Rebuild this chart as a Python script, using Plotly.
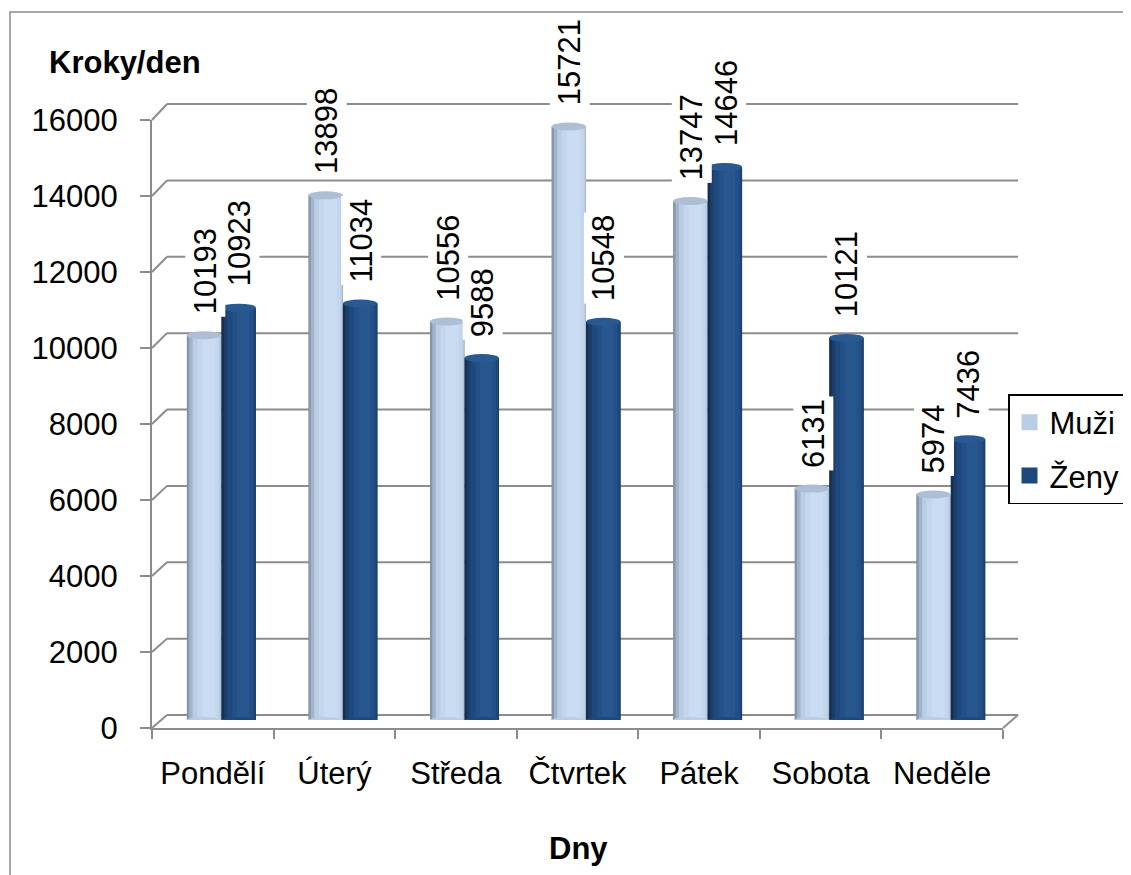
import plotly.graph_objects as go

# ---- data ----
days = ["Pondělí", "Úterý", "Středa", "Čtvrtek", "Pátek", "Sobota", "Neděle"]
muzi = [10193, 13898, 10556, 15721, 13747, 6131, 5974]
zeny = [10923, 11034, 9588, 10548, 14646, 10121, 7436]
y_ticks = [0, 2000, 4000, 6000, 8000, 10000, 12000, 14000, 16000]
y_title = "Kroky/den"
x_title = "Dny"
series_names = ["Muži", "Ženy"]
series_colors = ["#b9cde5", "#1f497d"]

W, H = 1131, 875
OFF = 8  # page body margin
FONT = "Liberation Sans, Arial, sans-serif"
FS = 31
GRID = "#8c8c8c"


def px_x(p):
    return (p - OFF) / W


def px_y(p):
    return 1 - (p - OFF) / H


# geometry (screen pixels)
front_x = (152, 1003)
front_y = (728, 120)      # y of 0 and 16000 on the front axis
bar_x = (160.5, 1011.5)
bar_y = (720, 116)
back_x = (167, 1018)
back_y = (715, 104)
YMAX = 16000

cat_w = (front_x[1] - front_x[0]) / len(days)
bar_px = 34.5
bw = bar_px / cat_w

fig = go.Figure()

# invisible trace for the front category axis
fig.add_trace(go.Scatter(x=days, y=muzi, mode="markers", marker=dict(opacity=0),
                         showlegend=False, hoverinfo="skip", xaxis="x", yaxis="y"))

layers_m = [(0.00, 1.00, "#8595ab"), (0.07, 1.00, "#a2b4ca"), (0.17, 0.98, "#b9cde5"),
            (0.30, 0.93, "#c3d6ed"), (0.45, 0.83, "#cadcf2")]
layers_z = [(0.00, 1.00, "#142f50"), (0.07, 1.00, "#1b3d67"), (0.17, 0.97, "#1f497d"),
            (0.32, 0.91, "#24508a"), (0.46, 0.80, "#28568f")]

for name, vals, layers, base in [(series_names[0], muzi, layers_m, -bw),
                                  (series_names[1], zeny, layers_z, 0.0)]:
    for k, (s, e, col) in enumerate(layers):
        fig.add_trace(go.Bar(
            x=days, y=vals, name=name,
            width=[(e - s) * bw] * len(days),
            offset=[base + s * bw] * len(days),
            marker=dict(color=col, line=dict(width=0)),
            showlegend=False, legendgroup=name,
            hoverinfo="skip", xaxis="x2", yaxis="y2"))

# legend entries (square swatches)
for name, col in zip(series_names, series_colors):
    fig.add_trace(go.Scatter(x=[None], y=[None], mode="markers", name=name,
                             marker=dict(symbol="square", size=17, color=col),
                             legendgroup=name, showlegend=True, hoverinfo="skip",
                             xaxis="x2", yaxis="y2"))

shapes = []
# outer border
shapes.append(dict(type="rect", xref="paper", yref="paper",
                   x0=px_x(10), x1=1.05, y0=-0.05, y1=px_y(12),
                   line=dict(color="#8c8c8c", width=1.5), layer="below"))


def fy(v):
    return px_y(front_y[0] + (front_y[1] - front_y[0]) * v / YMAX)


def by(v):
    return px_y(back_y[0] + (back_y[1] - back_y[0]) * v / YMAX)


for v in y_ticks:
    shapes.append(dict(type="line", xref="paper", yref="paper",
                       x0=px_x(back_x[0]), x1=px_x(back_x[1]), y0=by(v), y1=by(v),
                       line=dict(color=GRID, width=2), layer="below"))
    shapes.append(dict(type="line", xref="paper", yref="paper",
                       x0=px_x(front_x[0]), x1=px_x(back_x[0]), y0=fy(v), y1=by(v),
                       line=dict(color=GRID, width=2), layer="below"))
# right floor diagonal
shapes.append(dict(type="line", xref="paper", yref="paper",
                   x0=px_x(front_x[1]), x1=px_x(back_x[1]), y0=fy(0), y1=by(0),
                   line=dict(color=GRID, width=2), layer="below"))

# cylinder caps (top and bottom ellipses)
for vals, cap_top, cap_bot, x0, x1 in [(muzi, "#aebfd5", "#b9cde5", -bar_px, 0),
                                        (zeny, "#2a5890", "#1f497d", 0, bar_px)]:
    for d, v in zip(days, vals):
        shapes.append(dict(type="circle", xref="x2", yref="y2", xsizemode="pixel",
                           ysizemode="pixel", xanchor=d, yanchor=v, x0=x0, x1=x1,
                           y0=-4, y1=4, fillcolor=cap_top, line=dict(width=0), layer="above"))
        shapes.append(dict(type="circle", xref="x2", yref="y2", xsizemode="pixel",
                           ysizemode="pixel", xanchor=d, yanchor=0, x0=x0, x1=x1,
                           y0=-3, y1=3, fillcolor=cap_bot, line=dict(width=0), layer="above"))

annotations = []
for vals, xs in [(muzi, -bar_px / 2), (zeny, bar_px / 2)]:
    for d, v in zip(days, vals):
        annotations.append(dict(x=d, y=v, xref="x2", yref="y2", text=str(v),
                                textangle=-90, showarrow=False, xanchor="center",
                                yanchor="bottom", xshift=xs + 1, yshift=18,
                                bgcolor="white", borderpad=2,
                                font=dict(size=FS, color="black", family=FONT)))

annotations.append(dict(x=px_x(47), y=px_y(62), xref="paper", yref="paper",
                        text="<b>" + y_title + "</b>", showarrow=False,
                        xanchor="left", yanchor="middle",
                        font=dict(size=31, color="black", family=FONT)))
annotations.append(dict(x=px_x(578), y=px_y(848), xref="paper", yref="paper",
                        text="<b>" + x_title + "</b>", showarrow=False,
                        xanchor="center", yanchor="middle",
                        font=dict(size=31, color="black", family=FONT)))

fig.update_layout(
    width=W, height=H,
    margin=dict(l=0, r=0, t=0, b=0, pad=0, autoexpand=False),
    paper_bgcolor="white", plot_bgcolor="rgba(0,0,0,0)",
    barmode="overlay",
    font=dict(family=FONT, size=FS, color="black"),
    xaxis=dict(domain=[px_x(front_x[0]), px_x(front_x[1])], type="category",
               categoryorder="array", categoryarray=days, range=[-0.5, len(days) - 0.5],
               showline=True, linecolor=GRID, linewidth=2, ticks="outside",
               tickson="boundaries", ticklen=9, tickcolor=GRID, tickwidth=2,
               showgrid=False, zeroline=False, ticklabelstandoff=17, automargin=False,
               tickfont=dict(size=FS, family=FONT, color="black"), anchor="y", fixedrange=True),
    yaxis=dict(domain=[px_y(front_y[0]), px_y(front_y[1])], range=[0, YMAX],
               tickvals=y_ticks, tickformat="d", showline=True, linecolor=GRID, linewidth=2,
               ticks="outside", ticklen=10, tickcolor=GRID, tickwidth=2,
               showgrid=False, zeroline=False, ticklabelstandoff=16, automargin=False,
               tickfont=dict(size=FS, family=FONT, color="black"), anchor="x", fixedrange=True),
    xaxis2=dict(domain=[px_x(bar_x[0]), px_x(bar_x[1])], type="category",
                categoryorder="array", categoryarray=days, range=[-0.5, len(days) - 0.5],
                visible=False, anchor="y2", fixedrange=True, automargin=False),
    yaxis2=dict(domain=[px_y(bar_y[0]), px_y(bar_y[1])], range=[0, YMAX],
                visible=False, anchor="x2", fixedrange=True, automargin=False),
    legend=dict(x=px_x(1008), y=px_y(394), xanchor="left", yanchor="top",
                bgcolor="white", bordercolor="black", borderwidth=1.5,
                font=dict(size=FS, family=FONT, color="black"),
                tracegroupgap=10, itemwidth=30),
    shapes=shapes,
    annotations=annotations,
    showlegend=True,
)

fig.write_html("out.html")
